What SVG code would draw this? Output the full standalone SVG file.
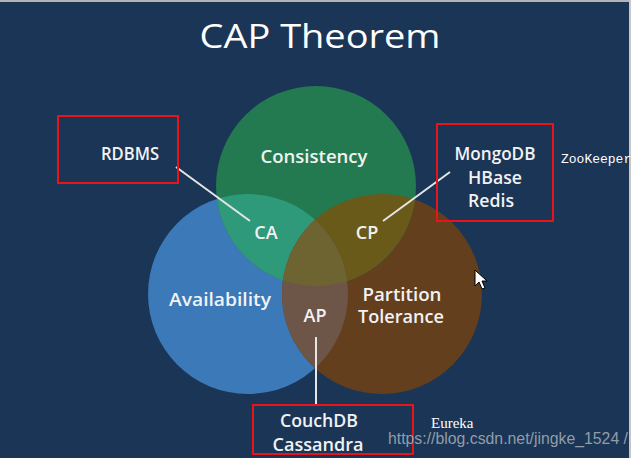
<svg xmlns="http://www.w3.org/2000/svg" width="631" height="458" viewBox="0 0 631 458">
<style>
.lbl{font-family:"Open Sans","Noto Sans","DejaVu Sans",sans-serif;font-size:18px;fill:#f2f2f2;text-anchor:middle;font-weight:600}
.box{fill:none;stroke:#e8141a;stroke-width:2}
.conn{stroke:#e6e6e6;stroke-width:2;fill:none}
.note{font-family:"Liberation Mono","DejaVu Sans Mono",monospace;font-size:13px;fill:#ffffff}
</style>
<defs>
<clipPath id="cG"><circle cx="316" cy="186" r="100"/></clipPath>
<clipPath id="cB"><circle cx="248" cy="294" r="100"/></clipPath>
</defs>
<rect width="631" height="458" fill="#1b3556"/>
<rect width="631" height="2" fill="#b4b4b4"/>
<rect x="629" width="2" height="458" fill="#c8c8c8"/>
<text x="320" y="48" font-family="Open Sans,Noto Sans,sans-serif" font-size="32" fill="#ffffff" text-anchor="middle" textLength="241" lengthAdjust="spacingAndGlyphs">CAP Theorem</text>
<g id="venn">
<circle id="availability" cx="248" cy="294" r="100" fill="#3b79b9"/>
<circle id="partition" cx="382" cy="294" r="100" fill="#633f1d"/>
<circle id="consistency" cx="316" cy="186" r="100" fill="#237a50"/>
<circle cx="248" cy="294" r="100" fill="#2e9a7a" clip-path="url(#cG)"/>
<circle cx="382" cy="294" r="100" fill="#6a5a1a" clip-path="url(#cG)"/>
<circle cx="382" cy="294" r="100" fill="#6d5548" clip-path="url(#cB)"/>
<g clip-path="url(#cG)"><circle cx="382" cy="294" r="100" fill="#6d6432" clip-path="url(#cB)"/></g>
</g>
<g id="connectors">
<line class="conn" x1="176" y1="167" x2="250" y2="221"/>
<line class="conn" x1="383" y1="221" x2="450" y2="172"/>
<line class="conn" x1="316" y1="337" x2="316" y2="405"/>
</g>
<g id="labels">
<text class="lbl" x="314" y="163" textLength="107" lengthAdjust="spacingAndGlyphs">Consistency</text>
<text class="lbl" x="266" y="239">CA</text>
<text class="lbl" x="367" y="239">CP</text>
<text class="lbl" x="220" y="306" textLength="102" lengthAdjust="spacingAndGlyphs">Availability</text>
<text class="lbl" x="402" y="301" textLength="79" lengthAdjust="spacingAndGlyphs">Partition</text>
<text class="lbl" x="401" y="323" textLength="86" lengthAdjust="spacingAndGlyphs">Tolerance</text>
<text class="lbl" x="315" y="322">AP</text>
</g>
<g id="rdbms">
<rect class="box" x="58" y="116" width="120" height="67"/>
<text class="lbl" x="130" y="160" textLength="58" lengthAdjust="spacingAndGlyphs">RDBMS</text>
</g>
<g id="cp-systems">
<rect class="box" x="437" y="124" width="116" height="97"/>
<text class="lbl" x="495" y="160" textLength="81" lengthAdjust="spacingAndGlyphs">MongoDB</text>
<text class="lbl" x="495" y="184" textLength="54" lengthAdjust="spacingAndGlyphs">HBase</text>
<text class="lbl" x="491" y="207" textLength="46" lengthAdjust="spacingAndGlyphs">Redis</text>
</g>
<text class="note" x="561" y="163">ZooKeeper</text>
<g id="ap-systems">
<rect class="box" x="253" y="405" width="160" height="49"/>
<text class="lbl" x="319" y="427" textLength="78" lengthAdjust="spacingAndGlyphs">CouchDB</text>
<text class="lbl" x="318" y="451" textLength="91" lengthAdjust="spacingAndGlyphs">Cassandra</text>
</g>
<text x="431" y="428" style="font-family:'Liberation Serif',serif;font-size:15px;fill:#ffffff">Eureka</text>
<text x="388" y="444" font-family="Liberation Sans,Arial,sans-serif" font-size="16" fill="#b4b8bd" fill-opacity="0.8" textLength="240" lengthAdjust="spacingAndGlyphs">https://blog.csdn.net/jingke_1524 /</text>
<path d="M475 270 L475 286 L479 282 L482 289 L485 288 L482 281 L487 281 Z" fill="#ffffff" stroke="#000000" stroke-width="1"/>
</svg>
